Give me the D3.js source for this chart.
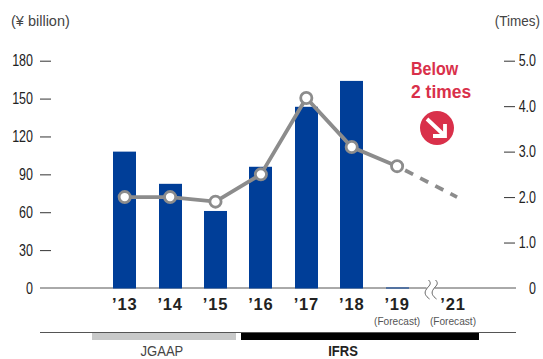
<!DOCTYPE html>
<html><head><meta charset="utf-8">
<script src="https://cdn.jsdelivr.net/npm/d3@7"></script>
<style>
html,body{margin:0;padding:0;background:#fff}
svg{display:block}
text{font-family:"Liberation Sans",Arial,sans-serif}
</style></head><body><svg id="c" width="543" height="359"></svg>
<script>
const years=[2013,2014,2015,2016,2017,2018,2019,2021];
const yearLabels=["’13","’14","’15","’16","’17","’18","’19","’21"];
const barYears=[2013,2014,2015,2016,2017,2018,2019];
const barValues=[108,82.5,61,96,143.5,164,0.4];
const actualYears=[2013,2014,2015,2016,2017,2018,2019];
const actualRatio=[2.0,2.0,1.9,2.5,4.18,3.1,2.68];
const forecastYears=[2019,2021.09];
const forecastRatio=[2.68,2.0];
const leftTicks=[0,30,60,90,120,150,180];
const rightTicks=[0,1,2,3,4,5];
const forecastLabelYears=[2019,2021];
const standards=[{name:"JGAAP",from:2012.28,to:2015.45,color:"#c8c9c9"},{name:"IFRS",from:2015.56,to:2021.58,color:"#000"}];

const svg=d3.select("#c");
const x=d3.scaleLinear().domain([2012,2013,2019,2021,2022]).range([79.3,124.7,397.1,453,498]);
const yL=d3.scaleLinear().domain([0,180]).range([288,60.7]);
const yR=d3.scaleLinear().domain([0,5]).range([288,60.7]);
const barW=23;
const NAVY="#003e98",GRAY="#8c8c8c",RED="#d9304a",TXT="#222";

function fit(sel,ratio){ sel.each(function(){ const w=this.getComputedTextLength(); d3.select(this).attr("textLength",w*ratio).attr("lengthAdjust","spacingAndGlyphs"); }); }

// baseline
svg.append("line").attr("x1",40).attr("x2",516).attr("y1",288).attr("y2",288).attr("stroke","#555").attr("stroke-width",1);

// bars
svg.append("g").selectAll("rect").data(barYears).join("rect")
 .attr("x",d=>Math.round(x(d)-barW/2)).attr("width",barW)
 .attr("y",(d,i)=>yL(barValues[i])).attr("height",(d,i)=>yL(0)-yL(barValues[i])+.5)
 .attr("fill",NAVY);

// axes
function styleAxis(g,tx){
 g.select(".domain").remove();
 g.selectAll("line").attr("stroke","#333").attr("stroke-width",1);
 g.selectAll(".tick").filter(d=>d===0).select("line").remove();
 g.selectAll("text").style("font-family",'"Liberation Sans"').attr("font-size",16).attr("fill",TXT).attr("text-anchor","end").attr("x",tx).call(fit,.78);
}
svg.append("g").attr("transform","translate(51,0)")
 .call(d3.axisLeft(yL).tickValues(leftTicks).tickSize(11))
 .call(g=>styleAxis(g,-18));
svg.append("g").attr("transform","translate(504,0)")
 .call(d3.axisRight(yR).tickValues(rightTicks).tickSize(11).tickFormat(d=>d===0?"0":d3.format(".1f")(d)))
 .call(g=>styleAxis(g,32));

// unit labels
svg.append("text").attr("x",11).attr("y",26).attr("font-size",14.5).attr("fill","#444").text("(¥ billion)");
svg.append("text").attr("x",540).attr("y",26).attr("text-anchor","end").attr("font-size",14.5).attr("fill","#444").text("(Times)").call(fit,.93);

// line
const line=d3.line().x(d=>x(d[0])).y(d=>yR(d[1]));
svg.append("path").datum(d3.zip(actualYears,actualRatio)).attr("d",line).attr("fill","none").attr("stroke",GRAY).attr("stroke-width",3.8);
svg.append("path").datum(d3.zip(forecastYears,forecastRatio)).attr("d",line).attr("fill","none").attr("stroke",GRAY).attr("stroke-width",3.8).attr("stroke-dasharray","9 8").attr("stroke-dashoffset",-9);
svg.append("g").selectAll("circle").data(d3.zip(actualYears,actualRatio)).join("circle")
 .attr("cx",d=>x(d[0])).attr("cy",d=>yR(d[1])).attr("r",5.6).attr("fill","#fff").attr("stroke",GRAY).attr("stroke-width",2.8);

// break mark
const bx=x(2020)+5.5;
svg.append("rect").attr("x",bx-4).attr("y",286).attr("width",8).attr("height",4).attr("fill","#fff");
[-3,4].forEach(dx=>{
 svg.append("path").attr("fill","none").attr("stroke","#555").attr("stroke-width",.9)
  .attr("d",`M${bx+dx+1},280 C${bx+dx+5},284 ${bx+dx+1},286 ${bx+dx-1},289 C${bx+dx-4},293 ${bx+dx-2},296 ${bx+dx+2},299`);
});

// year labels
svg.append("g").selectAll("text").data(years).join("text")
 .attr("x",d=>x(d)).attr("y",310).attr("text-anchor","middle").attr("font-size",16.5).attr("font-weight","bold").attr("letter-spacing",.8).attr("fill","#222")
 .text((d,i)=>yearLabels[i]);
svg.append("g").selectAll("text").data(forecastLabelYears).join("text")
 .attr("x",d=>x(d)).attr("y",325).attr("text-anchor","middle").attr("font-size",11.5).attr("fill","#555").text("(Forecast)").call(fit,.88);

// accounting standards
svg.append("line").attr("x1",40).attr("x2",516).attr("y1",332.5).attr("y2",332.5).attr("stroke","#555");
svg.append("g").selectAll("rect").data(standards).join("rect")
 .attr("x",d=>Math.round(x(d.from))).attr("width",d=>Math.round(x(d.to))-Math.round(x(d.from))).attr("y",333).attr("height",7).attr("fill",d=>d.color);
svg.append("g").selectAll("text").data(standards).join("text")
 .attr("x",d=>(x(d.from)+x(d.to))/2-(d.name==="JGAAP"?2:17)).attr("y",355.8).attr("text-anchor","middle")
 .attr("font-size",14).attr("font-weight",d=>d.name==="IFRS"?"bold":"normal").attr("fill",d=>d.name==="IFRS"?"#222":"#444").text(d=>d.name).call(fit,.93);

// annotation
svg.append("text").attr("x",411).attr("y",75).attr("font-size",18).attr("font-weight","bold").attr("fill",RED).text("Below").call(fit,.89);
svg.append("text").attr("x",411).attr("y",97.5).attr("font-size",18).attr("font-weight","bold").attr("fill",RED).text("2 times").call(fit,.97);
const ann=svg.append("g").attr("transform","translate(437,128)");
ann.append("circle").attr("r",17).attr("fill",RED);
ann.append("path").attr("d","M-10,-9 L8,8 M8,-4 L8,8 L-4,8").attr("fill","none").attr("stroke","#fff").attr("stroke-width",3.8);
</script></body></html>
